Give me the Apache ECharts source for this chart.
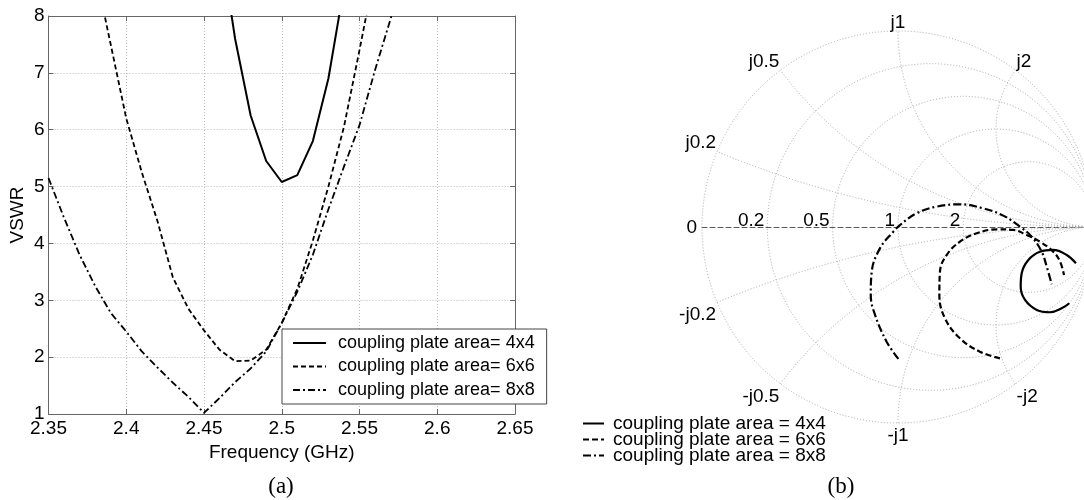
<!DOCTYPE html>
<html>
<head>
<meta charset="utf-8">
<title>VSWR and Smith chart</title>
<script src="https://cdn.jsdelivr.net/npm/echarts@6.0.0/dist/echarts.min.js"></script>
<style>
  html, body { margin: 0; padding: 0; background: #fff; }
  #chart { width: 1084px; height: 500px; }
</style>
</head>
<body>
<div id="chart"></div>
<script>
// (a) 驻波比 vs 频率
const freqGHz = [2.35, 2.36, 2.37, 2.38, 2.39, 2.40, 2.41, 2.42, 2.43, 2.44, 2.45, 2.46,
  2.47, 2.48, 2.49, 2.50, 2.51, 2.52, 2.53, 2.54, 2.55, 2.56, 2.57, 2.58]
const vswr4x4 = [null, null, null, null, null, null, null, null, null, null, null, 9.4,
  7.6, 6.25, 5.45, 5.08, 5.2, 5.8, 6.9, 8.5, null, null, null, null]
const vswr6x6 = [null, null, null, 8.8, 7.5, 6.2, 5.25, 4.4, 3.4, 2.85, 2.47, 2.13,
  1.93, 1.94, 2.13, 2.6, 3.2, 4.05, 5.0, 6.05, 7.4, 8.8, null, null]
const vswr8x8 = [5.15, 4.45, 3.8, 3.25, 2.78, 2.45, 2.1, 1.82, 1.55, 1.3, 1.02, 1.28,
  1.56, 1.8, 2.1, 2.6, 3.15, 3.8, 4.6, 5.35, 6.08, 7.05, 7.95, 8.9]

// (b) 反射系数 实部 / 虚部
const gamma4x4Re = [0.908, 0.861, 0.792, 0.724, 0.665, 0.631, 0.626, 0.648, 0.708, 0.776, 0.835, 0.874]
const gamma4x4Im = [-0.185, -0.143, -0.117, -0.126, -0.168, -0.236, -0.305, -0.372, -0.423, -0.435, -0.415, -0.389]
const gamma6x6Re = [0.520, 0.418, 0.316, 0.240, 0.211, 0.214, 0.248, 0.316, 0.402, 0.504, 0.588, 0.657, 0.724, 0.792, 0.827, 0.847]
const gamma6x6Im = [-0.670, -0.636, -0.568, -0.466, -0.347, -0.228, -0.143, -0.075, -0.032, -0.012, -0.015, -0.041, -0.075, -0.126, -0.177, -0.245]
const gamma8x8Re = [0.002, -0.058, -0.117, -0.139, -0.134, -0.092, -0.024, 0.010, 0.095, 0.197, 0.316, 0.435, 0.537, 0.622, 0.682, 0.733, 0.759, 0.784]
const gamma8x8Im = [-0.673, -0.585, -0.449, -0.347, -0.228, -0.109, -0.024, 0.010, 0.070, 0.104, 0.116, 0.095, 0.058, 0.002, -0.049, -0.126, -0.203, -0.292]

// 圆图网格：等电阻圆、等电抗圆
const smithR = [0, 0.2, 0.5, 1, 2]
const smithX = [0.2, 0.5, 1, 2]

const legendA = ['coupling plate area= 4x4', 'coupling plate area= 6x6', 'coupling plate area= 8x8']
const legendB = ['coupling plate area = 4x4', 'coupling plate area = 6x6', 'coupling plate area = 8x8']

const FONT = 'Liberation Sans, Arial, Helvetica, sans-serif'
const SERIF = 'Liberation Serif, Times New Roman, serif'
const AXIS_COLOR = '#666'
const gridLine = { fill: 'none', stroke: '#a8a8a8', lineWidth: 1, lineDash: [1, 2] }

const dashStyles = [
  { type: 'solid', width: 2 },
  { type: [5, 3], width: 1.8 },
  { type: [7, 3, 2, 3], width: 1.8 },
]
const smithDash = [
  { type: 'solid', width: 2.2 },
  { type: [6, 3], width: 2.2 },
  { type: [8, 3, 2, 3], width: 2.2 },
]

const labelStyle = (text, align, verticalAlign) => ({
  text,
  align,
  verticalAlign,
  fill: '#000',
  fontSize: 19,
  fontFamily: FONT,
})

// 等电阻圆
const renderResistance = (params, api) => {
  const r = api.value(0)
  const s = api.size([1, 0])[0]
  const c = api.coord([r / (1 + r), 0])
  const p = api.coord([(r - 1) / (r + 1), 0])
  const children = [
    { type: 'circle', shape: { cx: c[0], cy: c[1], r: s / (1 + r) }, style: gridLine, silent: true },
  ]
  if (r === 0) {
    children.push({ type: 'text', x: p[0] - 5, y: p[1] + 1, style: labelStyle('0', 'right', 'middle') })
  } else {
    children.push({ type: 'text', x: p[0] - 3, y: p[1] - 6, style: labelStyle(String(r), 'right', 'middle') })
  }
  return { type: 'group', children }
}

// 等电抗圆弧
const renderReactance = (params, api) => {
  const xv = api.value(0)
  const s = api.size([1, 0])[0]
  const c = api.coord([1, 1 / xv])
  const k = xv * xv + 1
  let a = Math.atan2(-(xv * xv - 1) / (xv * k), -2 / k)
  if (a < 0) a += Math.PI * 2
  const edgeRe = (xv * xv - 1) / k
  const edge = api.coord([edgeRe, 2 * xv / k])
  let align = 'center'
  let dx = 0
  if (edgeRe < -0.1) { align = 'right'; dx = -1 }
  if (edgeRe > 0.1) { align = 'left'; dx = 1 }
  const vAlign = xv > 0 ? 'bottom' : 'top'
  const dy = xv > 0 ? 1 : 3
  const label = (xv < 0 ? '-j' : 'j') + Math.abs(xv)
  return {
    type: 'group',
    children: [
      {
        type: 'arc',
        shape: {
          cx: c[0],
          cy: c[1],
          r: s / Math.abs(xv),
          startAngle: xv > 0 ? Math.PI / 2 : a,
          endAngle: xv > 0 ? a : Math.PI * 1.5,
          clockwise: true,
        },
        style: gridLine,
        silent: true,
      },
      { type: 'text', x: edge[0] + dx, y: edge[1] + dy, style: labelStyle(label, align, vAlign) },
    ],
  }
}

const lineSeries = (name, values, i) => ({
  name,
  type: 'line',
  xAxisIndex: 0,
  yAxisIndex: 0,
  data: freqGHz.map((f, j) => [f, values[j]]),
  symbol: 'none',
  lineStyle: { color: '#000', ...dashStyles[i] },
  itemStyle: { color: '#000' },
  z: 3,
})

const smithSeries = (name, re, im, i) => ({
  name,
  type: 'line',
  xAxisIndex: 2,
  yAxisIndex: 2,
  data: re.map((v, j) => [v, im[j]]),
  symbol: 'none',
  smooth: 0.4,
  lineStyle: { color: '#000', ...smithDash[i] },
  itemStyle: { color: '#000' },
  z: 3,
})

const chart = echarts.init(document.getElementById('chart'))

chart.setOption({
  animation: false,
  backgroundColor: '#fff',
  textStyle: { fontFamily: FONT },
  grid: [
    { left: 48.5, top: 16, width: 466.5, height: 398, show: false, outerBoundsMode: 'none' },
    // 圆图右侧被画布截断：x 只显示到 0.95
    { left: 702, top: 31, width: 382.2, height: 392, show: false, outerBoundsMode: 'none' },
  ],
  xAxis: [
    {
      type: 'value',
      gridIndex: 0,
      position: 'bottom',
      min: 2.35,
      max: 2.65,
      interval: 0.05,
      name: 'Frequency (GHz)',
      nameLocation: 'middle',
      nameGap: 25,
      nameTextStyle: { color: '#000', fontSize: 19, fontFamily: FONT },
      axisLine: { show: true, onZero: false, lineStyle: { color: AXIS_COLOR, width: 1 } },
      axisTick: { show: true, inside: true, length: 5, lineStyle: { color: AXIS_COLOR } },
      axisLabel: {
        color: '#000',
        fontSize: 19,
        fontFamily: FONT,
        margin: 5,
        formatter: (v) => String(parseFloat(v.toFixed(2))),
      },
      splitLine: { show: true, lineStyle: { color: '#b8b8b8', type: [1, 2] } },
    },
    {
      type: 'value',
      gridIndex: 0,
      position: 'top',
      min: 2.35,
      max: 2.65,
      interval: 0.05,
      axisLine: { show: true, onZero: false, lineStyle: { color: AXIS_COLOR, width: 1 } },
      axisTick: { show: true, inside: true, length: 5, lineStyle: { color: AXIS_COLOR } },
      axisLabel: { show: false },
      splitLine: { show: false },
    },
    {
      type: 'value',
      gridIndex: 1,
      min: -1,
      max: 0.95,
      axisLine: { show: true, onZero: true, lineStyle: { color: '#555', width: 1, type: [5, 3] } },
      axisTick: { show: false },
      axisLabel: { show: false },
      splitLine: { show: false },
    },
  ],
  yAxis: [
    {
      type: 'value',
      gridIndex: 0,
      position: 'left',
      min: 1,
      max: 8,
      interval: 1,
      name: 'VSWR',
      nameLocation: 'middle',
      nameGap: 21,
      nameTextStyle: { color: '#000', fontSize: 19, fontFamily: FONT },
      axisLine: { show: true, onZero: false, lineStyle: { color: AXIS_COLOR, width: 1 } },
      axisTick: { show: true, inside: true, length: 5, lineStyle: { color: AXIS_COLOR } },
      axisLabel: { color: '#000', fontSize: 19, fontFamily: FONT, margin: 4 },
      splitLine: { show: true, lineStyle: { color: '#b8b8b8', type: [1, 2] } },
    },
    {
      type: 'value',
      gridIndex: 0,
      position: 'right',
      min: 1,
      max: 8,
      interval: 1,
      axisLine: { show: true, onZero: false, lineStyle: { color: AXIS_COLOR, width: 1 } },
      axisTick: { show: true, inside: true, length: 5, lineStyle: { color: AXIS_COLOR } },
      axisLabel: { show: false },
      splitLine: { show: false },
    },
    {
      type: 'value',
      gridIndex: 1,
      min: -1,
      max: 1,
      show: false,
    },
  ],
  legend: [
    {
      data: legendA,
      orient: 'vertical',
      left: 282,
      top: 329,
      padding: [4, 12, 4, 10],
      itemWidth: 33,
      itemHeight: 14,
      itemGap: 3.5,
      itemStyle: { opacity: 0 },
      backgroundColor: '#fff',
      borderColor: '#444',
      borderWidth: 1,
      borderRadius: 0,
      selectedMode: false,
      textStyle: { color: '#000', fontSize: 18, fontFamily: FONT, lineHeight: 20, padding: [0, 0, 0, 7] },
      z: 10,
    },
    {
      data: legendB,
      orient: 'vertical',
      left: 578,
      top: 414,
      padding: [0, 0, 0, 4],
      itemWidth: 21,
      itemHeight: 10,
      itemGap: -3,
      itemStyle: { opacity: 0 },
      selectedMode: false,
      textStyle: { color: '#000', fontSize: 19, fontFamily: FONT, lineHeight: 16, padding: [0, 0, 0, 4] },
    },
  ],
  graphic: [
    {
      type: 'text',
      x: 281,
      y: 487,
      style: { text: '(a)', align: 'center', verticalAlign: 'middle', fill: '#000', fontSize: 23, fontFamily: SERIF },
    },
    {
      type: 'text',
      x: 841,
      y: 487,
      style: { text: '(b)', align: 'center', verticalAlign: 'middle', fill: '#000', fontSize: 23, fontFamily: SERIF },
    },
  ],
  series: [
    lineSeries(legendA[0], vswr4x4, 0),
    lineSeries(legendA[1], vswr6x6, 1),
    lineSeries(legendA[2], vswr8x8, 2),
    {
      type: 'custom',
      xAxisIndex: 2,
      yAxisIndex: 2,
      data: smithR.map((r) => [r, 0]),
      encode: { x: 0, y: 1 },
      renderItem: renderResistance,
      clip: false,
      silent: true,
      z: 1,
    },
    {
      type: 'custom',
      xAxisIndex: 2,
      yAxisIndex: 2,
      data: smithX.concat(smithX.map((x) => -x)).map((x) => [x, 0]),
      encode: { x: 0, y: 1 },
      renderItem: renderReactance,
      clip: false,
      silent: true,
      z: 1,
    },
    smithSeries(legendB[0], gamma4x4Re, gamma4x4Im, 0),
    smithSeries(legendB[1], gamma6x6Re, gamma6x6Im, 1),
    smithSeries(legendB[2], gamma8x8Re, gamma8x8Im, 2),
  ],
})
</script>
</body>
</html>
